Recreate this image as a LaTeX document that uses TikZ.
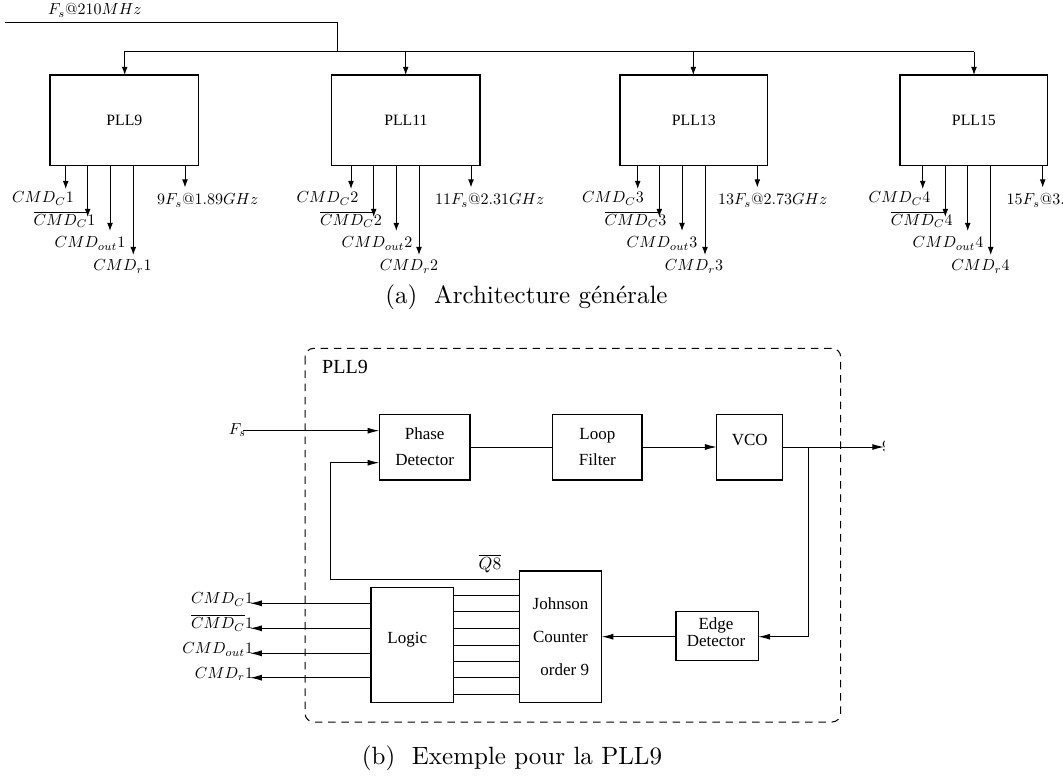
\documentclass[tikz,border=0pt]{standalone}
\usepackage{fontspec}
\usepackage{graphicx}
\newfontfamily\tms{Liberation Serif}
\newcommand\mth[1]{\scalebox{0.64}{$#1$}}
\usetikzlibrary{arrows.meta}
\tikzset{
  every node/.style={inner sep=0pt, outer sep=0pt},
  bx/.style n args={2}{draw, line width=0.45pt, minimum width=#1*0.4pt, minimum height=#2*0.4pt, anchor=north west, inner sep=0pt},
  arr/.style={-{Latex[length=3.2pt,width=2.3pt]}},
  arrb/.style={-{Latex[length=4.7pt,width=2.4pt]}},
  lbl/.style={font=\fontsize{10}{12}\selectfont},
  tbox/.style={font=\tms\fontsize{6.3}{7.5}\selectfont},
  lbox/.style={font=\tms\fontsize{6.8}{10.4}\selectfont, align=center},
  capt/.style={font=\fontsize{10}{12}\selectfont},
  dashbox/.style={draw, dash pattern=on 3pt off 2.3pt, rounded corners=3.5pt}
}
\begin{document}
\begin{tikzpicture}[x=0.4pt,y=-0.4pt, line width=0.4pt]
\useasboundingbox (0,0) rectangle (1063,778);
% ---------------- (a) ----------------
\begin{scope}
\clip (0,0) rectangle (1063,290);
\coordinate (fsin) at (5,23);
\coordinate (bend) at (337,23);
\coordinate (busj) at (337,52);
\node[lbl, anchor=base west] (fslab) at (48,15) {\mth{F_s@210MHz}};
\node[bx={148.7}{90.3}, tbox] (p9) at (50,75) {PLL9};
\node[bx={148.3}{90.3}, tbox] (p11) at (331.7,75) {PLL11};
\node[bx={147.7}{90.3}, tbox] (p13) at (620,75) {PLL13};
\node[bx={147.7}{90.3}, tbox] (p15) at (900,75) {PLL15};
\draw (fsin) -- (bend) -- (busj);
\draw[arr] (busj) -- (124.7,52) -- (p9.north -| 124.7,0);
\draw (busj) -- (974,52);
\draw[arr] (405.7,52) -- (p11.north -| 405.7,0);
\draw[arr] (693.3,52) -- (p13.north -| 693.3,0);
\draw[arr] (974,52) -- (p15.north -| 974,0);
% outputs
\foreach \b/\xa/\xb/\xc/\xd/\xo/\la/\lb/\lc/\ld/\lo/\k/\m in {
  p9/65.7/87.7/110/133.3/185/43/64.5/90/122.5/157/1/9F_s@1.89GHz,
  p11/351/373.7/396.3/419/471/327.5/351/377/409/435/2/11F_s@2.31GHz,
  p13/637.7/659.3/682/705/757.3/613/635.5/662/694/718/3/13F_s@2.73GHz,
  p15/922.7/945.3/967.7/990.7/1042.7/899.5/921.7/948/980.5/1006.7/4/15F_s@3.15GHz}{
  \draw[arr] (\b.south -| \xa,0) -- (\xa,189);
  \draw[arr] (\b.south -| \xb,0) -- (\xb,217);
  \draw[arr] (\b.south -| \xc,0) -- (\xc,231);
  \draw[arr] (\b.south -| \xd,0) -- (\xd,255);
  \draw[arr] (\b.south -| \xo,0) -- (\xo,187.5);
  \node[lbl, anchor=base] at (\la,203) {\mth{CMD_C\k}};
  \node[lbl, anchor=base] at (\lb,225.5) {\mth{\overline{CMD_C}\k}};
  \node[lbl, anchor=base] at (\lc,248) {\mth{CMD_{out}\k}};
  \node[lbl, anchor=base] at (\ld,271) {\mth{CMD_r\k}};
  \node[lbl, anchor=base west] at (\lo,205) {\mth{\m}};
}
\end{scope}
\node[capt, anchor=base] (capa) at (526.5,304) {(a)\ \ Architecture générale};
% ---------------- (b) ----------------
\begin{scope}
\clip (0,320) rectangle (884,740);
\draw[dashbox] (305,348.3) rectangle (840.7,722);
\node[font=\tms\fontsize{8}{9}\selectfont] (plllab) at (345,366.7) {PLL9};
\node[bx={90.7}{65.7}, lbox] (pd) at (379.3,414.3) {Phase\\Detector};
\node[bx={89.2}{65.7}, lbox] (lf) at (552.8,414.3) {Loop\\Filter};
\node[bx={66}{65.7}, lbox] (vco) at (716.7,414.3) {};
\node[lbox] (vcot) at (749.7,440) {VCO};
\node[bx={82.4}{131.3}, lbox, font=\tms\fontsize{6.8}{13.2}\selectfont] (jc) at (519.3,571) {Johnson\\Counter\\\ \ order 9};
\node[bx={82.3}{115}, lbox] (lg) at (371,587.3) {};
\node[lbox] (lgt) at (407.3,640) {Logic};
\node[bx={82.3}{49}, lbox] (ed) at (676,611.7) {};
\node[lbox, font=\tms\fontsize{6.8}{6.7}\selectfont] (edt) at (716,632) {Edge\\Detector};
\coordinate (fsb) at (243,430.7);
\node[lbl, anchor=base east] (fsl) at (246,434) {\mth{F_s}};
\draw[arrb] (fsb) -- (pd.west |- fsb);
\draw (pd.east |- 0,447) -- (lf.west |- 0,447);
\draw[arrb] (lf.east |- 0,447) -- (vco.west |- 0,447);
\coordinate (outend) at (884,447);
\draw[arrb] (vco.east |- 0,447) -- (outend);
\node[lbl, anchor=base west] (outl) at (882,451) {\mth{9F_s@1.89GHz}};
\coordinate (br) at (808,447);
\draw[arrb] (br) |- (ed.east |- 0,636.7);
\draw[arrb] (ed.west |- 0,636.7) -- (jc.east |- 0,636.7);
\coordinate (fb1) at (330,579);
\coordinate (fb2) at (330,462.7);
\draw[arrb] (jc.west |- fb1) -- (fb1) -- (fb2) -- (pd.west |- fb2);
\node[lbl, anchor=base] (q8) at (490,569.3) {\scalebox{0.7}{$\overline{Q8}$}};
\foreach \y in {595,611.7,628.3,645,661.7,677.7,694.3}{
  \draw (lg.east |- 0,\y) -- (jc.west |- 0,\y);
}
\foreach \y/\t in {603.3/CMD_C1, 628.3/\overline{CMD_C}1, 653.3/CMD_{out}1, 677.7/CMD_r1}{
  \draw[arrb] (lg.west |- 0,\y) -- (250,\y);
  \node[lbl, anchor=base east] at (253,\y+0.5) {\mth{\t}};
}
\end{scope}
\node[capt, anchor=base] (captb) at (512,764) {(b)\ \ Exemple pour la PLL9};
\end{tikzpicture}
\end{document}
